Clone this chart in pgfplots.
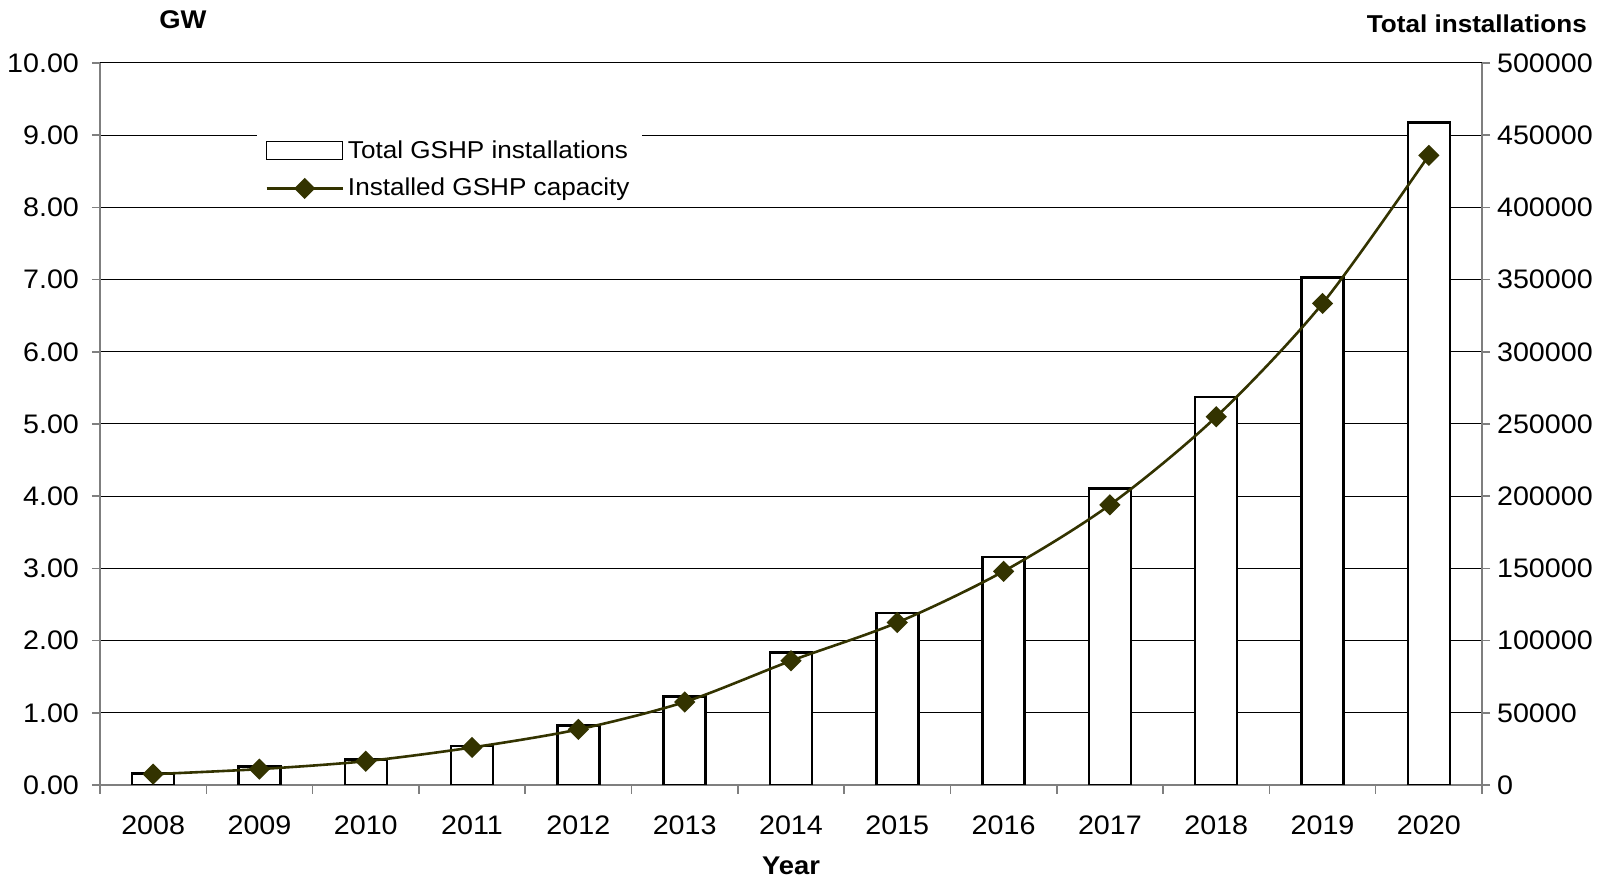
\documentclass[border=0pt]{standalone}
\usepackage{fontspec}
\setmainfont{Liberation Sans}[FakeStretch=1.07]
\usepackage{pgfplots}
\usepackage{pgfplotstable}
\pgfplotsset{compat=1.18}
\definecolor{olivedk}{HTML}{333300}
\definecolor{axgray}{HTML}{7F7F7F}
\pgfplotsset{
  my line legend/.style={legend image code/.code={\draw[mark repeat=2,mark phase=2,##1] plot coordinates {(0pt,0pt) (19pt,0pt) (38pt,0pt)};}},
  my bar legend/.style={legend image code/.code={\draw[fill=white,draw=black,line width=0.7pt] (0pt,-4.5pt) rectangle (38pt,4.5pt);}},
}

\pgfplotstableread{
idx inst gw
0 7900 0.15
1 12800 0.22
2 17700 0.33
3 27200 0.52
4 41200 0.77
5 61200 1.15
6 91800 1.72
7 118900 2.25
8 157700 2.96
9 205300 3.88
10 268500 5.10
11 351500 6.67
12 458800 8.72
}\datatable

\begin{document}
\begin{tikzpicture}
\useasboundingbox (-50pt,-48.5pt) rectangle (757pt,392.5pt);
\begin{axis}[
  scale only axis, width=691pt, height=361pt,
  xmin=-0.5, xmax=12.5, ymin=0, ymax=500000,
  axis x line*=bottom, axis y line*=right,
  xtick={0,...,12},
  xticklabels={2008,2009,2010,2011,2012,2013,2014,2015,2016,2017,2018,2019,2020},
  xticklabel style={yshift=-8pt},
  major x tick style={draw=none},
  minor xtick={-0.5,0.5,...,12.5},
  ytick={0,50000,...,500000},
  scaled y ticks=false,
  yticklabel style={/pgf/number format/.cd, fixed, precision=0, 1000 sep={}},
  ymajorgrids, grid style={black, line width=0.5pt},
  tick align=outside,
  major tick length=4pt, minor tick length=4.5pt,
  axis line style={axgray, line width=1pt},
  tick style={axgray, line width=0.8pt},
  tick label style={font=\fontsize{13.4}{15}\selectfont},
  /pgf/number format/assume math mode=true,
  xlabel={Year},
  every axis x label/.style={at={(axis description cs:0.5,-0.1116)}, anchor=center, font=\fontsize{12.8}{14}\selectfont\bfseries},
  ylabel={Total installations},
  every axis y label/.style={at={(axis description cs:1.0810,1.0546)}, anchor=east, font=\fontsize{12.2}{14}\selectfont\bfseries},
]
\addplot[ybar, bar width=21pt, fill=white, draw=black, line width=1.2pt] table[x=idx,y=inst]{\datatable};
\end{axis}
\begin{axis}[
  scale only axis, width=691pt, height=361pt,
  xmin=-0.5, xmax=12.5, ymin=0, ymax=10,
  axis x line=none, axis y line*=left,
  ytick={0,1,...,10},
  yticklabel style={xshift=-3pt, /pgf/number format/.cd, fixed, fixed zerofill, precision=2},
  tick align=outside,
  major tick length=4pt,
  axis line style={axgray, line width=1pt},
  tick style={axgray, line width=0.8pt},
  tick label style={font=\fontsize{13.4}{15}\selectfont},
  /pgf/number format/assume math mode=true,
  ylabel={GW},
  every axis y label/.style={at={(axis description cs:0.06,1.06)}, anchor=center, font=\fontsize{12.8}{14}\selectfont\bfseries},
  legend style={at={(axis description cs:0.1136,0.9044)}, anchor=north west, draw=none, fill=white,
    font=\fontsize{12.2}{14}\selectfont, inner xsep=4pt, inner ysep=2pt, row sep=4.5pt,
    nodes={inner xsep=2pt}},
  legend cell align=left,
]
\addlegendimage{my bar legend}
\addlegendentry{Total GSHP installations}
\addplot[olivedk, line width=1.3pt, smooth, mark=square*, mark size=3.1pt,
  mark options={rotate=45, solid, fill=olivedk}, my line legend]
  table[x=idx,y=gw]{\datatable};
\addlegendentry{Installed GSHP capacity}
\end{axis}
\end{tikzpicture}
\end{document}
